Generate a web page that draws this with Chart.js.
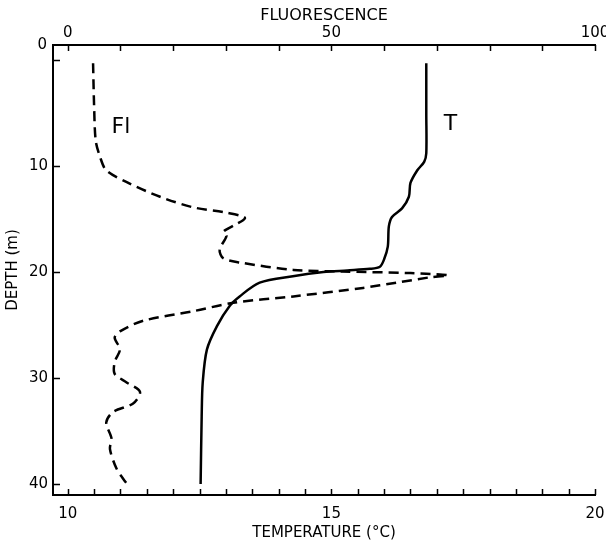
<!DOCTYPE html>
<html>
<head>
<meta charset="utf-8">
<script src="https://cdn.jsdelivr.net/npm/chart.js@4.4.0/dist/chart.umd.min.js"></script>
<style>
  html, body { margin: 0; padding: 0; background: #fff; }
  #wrap { width: 606px; height: 548px; position: relative; }
</style>
</head>
<body>
<div id="wrap"><canvas id="grafico"></canvas></div>
<script>
// Temperature profile (solid line)
const depthT = [0.3, 5, 8.8, 9.6, 10.4, 11.6, 12.9, 14.0, 14.8, 15.7, 17.6, 18.8, 19.5, 19.7, 19.85, 20.0, 20.4, 21.0, 22.3, 23.2, 25.1, 27.3, 30.4, 33.6, 40.0];
const tempT  = [16.8, 16.8, 16.8, 16.76, 16.63, 16.5, 16.47, 16.34, 16.15, 16.09, 16.07, 16.0, 15.92, 15.73, 15.3, 14.85, 14.27, 13.64, 13.26, 13.07, 12.83, 12.64, 12.56, 12.54, 12.52];

// Fluorescence profile (dashed line)
const depthF = [0.3, 4.4, 7.6, 9.1, 10.4, 11.5, 12.9, 13.9, 14.4, 14.9, 15.6, 16.2, 16.6, 17.9, 18.7, 19.1, 19.8, 19.95, 20.1, 20.3, 20.5, 21.0, 21.5, 22.3, 22.9, 23.7, 24.6, 25.6, 26.2, 27.3, 28.5, 29.6, 30.4, 31.3, 32.4, 33.2, 34.2, 35.7, 36.7, 38.5, 39.5, 40.1];
const fluor  = [4.8, 5.0, 5.3, 6.1, 7.3, 11.1, 17.5, 23.8, 30.1, 33.6, 31.5, 29.5, 30.1, 28.8, 29.5, 32.6, 42.8, 52, 65, 72.1, 68.7, 62.4, 56.0, 42.8, 31.4, 23.8, 14.3, 9.9, 8.9, 9.9, 8.9, 8.9, 11.1, 13.7, 12.4, 8.6, 7.3, 8.3, 8.0, 9.2, 10.5, 11.4];

// Axis ticks
const tempLabels = [10, 15, 20];
const fluorLabels = [0, 50, 100];
const depthTicks = [0, 10, 20, 30, 40];

const fonte = 'DejaVu Sans';

const toPoints = (xs, ys) => xs.map((v, i) => ({ x: v, y: ys[i] }));

// Ticks drawn inward, from the library's scales
const ticksInternos = {
  id: 'ticksInternos',
  afterDraw(chart) {
    const ctx = chart.ctx;
    const { x, x2, y } = chart.scales;
    const a = chart.chartArea;
    ctx.save();
    ctx.strokeStyle = '#000';
    ctx.lineWidth = 1.5;
    ctx.beginPath();
    x.ticks.forEach(t => {
      const px = Math.round(x.getPixelForValue(t.value)) + 0.5;
      ctx.moveTo(px, a.bottom); ctx.lineTo(px, a.bottom - 6);
    });
    x2.ticks.forEach(t => {
      const px = Math.round(x2.getPixelForValue(t.value)) + 0.5;
      ctx.moveTo(px, a.top); ctx.lineTo(px, a.top + 6);
    });
    y.ticks.forEach(t => {
      const py = Math.round(y.getPixelForValue(t.value)) + 0.5;
      ctx.moveTo(a.left, py); ctx.lineTo(a.left + 7, py);
    });
    ctx.stroke();

    ctx.fillStyle = '#000';
    // the depth "0" sits level with the top axis in the original
    ctx.font = '15px ' + fonte;
    ctx.textAlign = 'right';
    ctx.textBaseline = 'middle';
    ctx.fillText('0', a.left - 6, a.top);

    // curve labels
    ctx.font = '22px ' + fonte;
    ctx.textAlign = 'left';
    ctx.fillText('Fl', x2.getPixelForValue(8.3), y.getPixelForValue(6.3));
    ctx.fillText('T', x.getPixelForValue(17.13), y.getPixelForValue(6.1));
    ctx.restore();
  }
};

const fixX = h => s => { s.height = h; s.paddingLeft = 0; s.paddingRight = 11; };

const ctx = document.getElementById('grafico').getContext('2d');
new Chart(ctx, {
  type: 'scatter',
  data: {
    datasets: [
      {
        label: 'T',
        data: toPoints(tempT, depthT),
        xAxisID: 'x',
        yAxisID: 'y',
        showLine: true,
        borderColor: '#000',
        borderWidth: 2.5,
        pointRadius: 0,
        tension: 0.3
      },
      {
        label: 'Fl',
        data: toPoints(fluor, depthF),
        xAxisID: 'x2',
        yAxisID: 'y',
        showLine: true,
        borderColor: '#000',
        borderWidth: 2.5,
        borderDash: [10, 6],
        pointRadius: 0,
        tension: 0.3
      }
    ]
  },
  options: {
    responsive: true,
    maintainAspectRatio: false,
    animation: false,
    layout: { padding: 0 },
    plugins: {
      legend: { display: false },
      tooltip: { enabled: false }
    },
    scales: {
      x: {
        type: 'linear',
        position: 'bottom',
        min: 9.72,
        max: 20,
        grid: { display: true, drawOnChartArea: false, drawTicks: false },
        border: { color: '#000', width: 2 },
        ticks: {
          stepSize: 0.5,
          includeBounds: false,
          autoSkip: false,
          maxRotation: 0,
          padding: 10,
          color: '#000',
          font: { family: fonte, size: 15 },
          callback: v => tempLabels.includes(v) ? String(v) : ''
        },
        title: {
          display: true,
          text: 'TEMPERATURE (°C)',
          color: '#000',
          font: { family: fonte, size: 15 },
          padding: { top: 0, bottom: 6 }
        },
        afterFit: fixX(53)
      },
      x2: {
        type: 'linear',
        position: 'top',
        min: -2.8,
        max: 100,
        grid: { display: true, drawOnChartArea: false, drawTicks: false },
        border: { color: '#000', width: 2 },
        ticks: {
          stepSize: 10,
          includeBounds: false,
          autoSkip: false,
          maxRotation: 0,
          padding: 3,
          color: '#000',
          font: { family: fonte, size: 15 },
          callback: v => fluorLabels.includes(v) ? String(v) : ''
        },
        title: {
          display: true,
          text: 'FLUORESCENCE',
          color: '#000',
          font: { family: fonte, size: 16 },
          padding: { top: 6, bottom: 0 }
        },
        afterFit: fixX(45)
      },
      y: {
        type: 'linear',
        reverse: true,
        min: -1.42,
        max: 41.04,
        grid: { display: true, drawOnChartArea: false, drawTicks: false },
        border: { color: '#000', width: 2 },
        afterBuildTicks: s => { s.ticks = depthTicks.map(v => ({ value: v })); },
        ticks: {
          autoSkip: false,
          padding: 5,
          color: '#000',
          font: { family: fonte, size: 15 },
          callback: v => v === 0 ? '' : String(v)
        },
        title: {
          display: true,
          text: 'DEPTH (m)',
          color: '#000',
          font: { family: fonte, size: 15 },
          padding: { top: 4, bottom: 0 }
        },
        afterFit: s => { s.width = 53; s.paddingTop = 0; s.paddingBottom = 0; }
      }
    }
  },
  plugins: [ticksInternos]
});
</script>
</body>
</html>
